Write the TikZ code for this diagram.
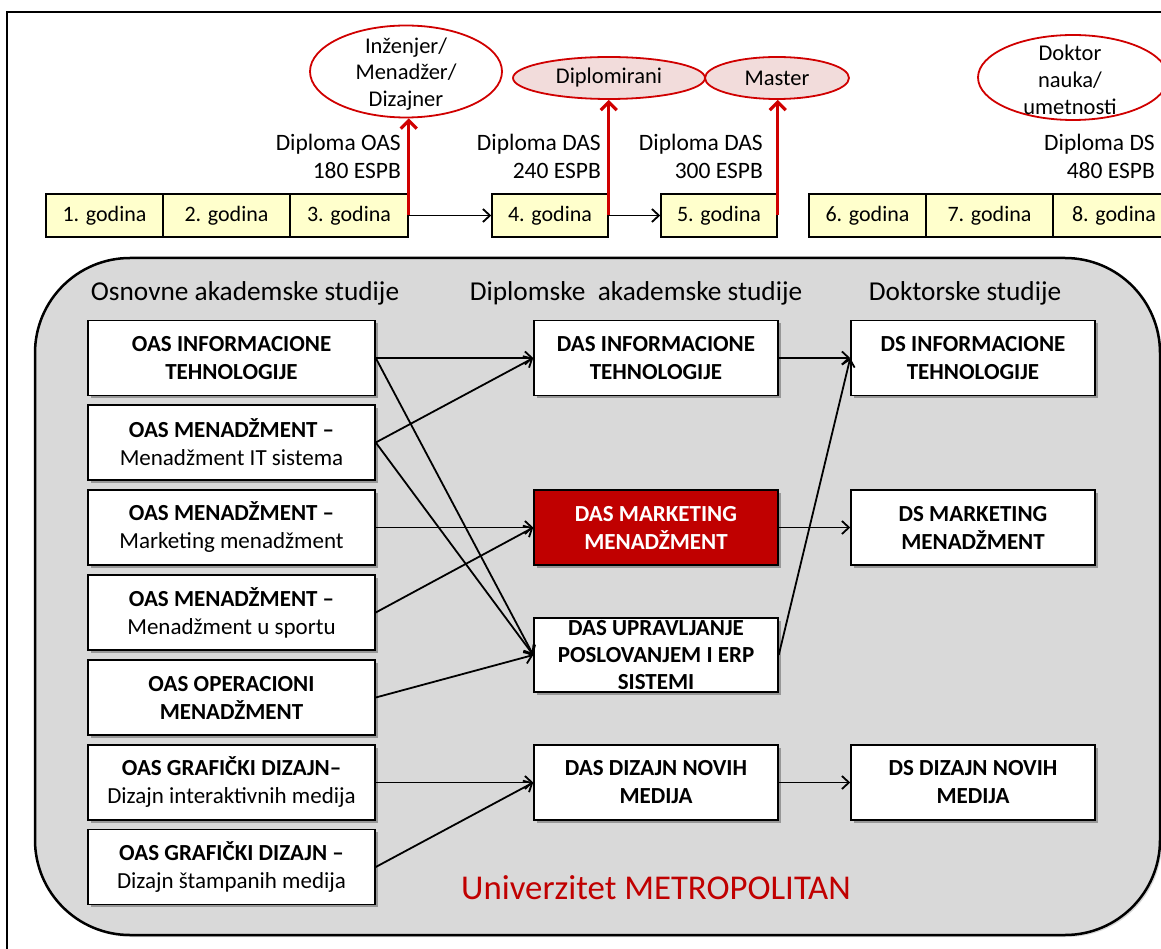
\documentclass[tikz,border=0pt]{standalone}
\usepackage{fontspec}
\setmainfont{Carlito}
\usetikzlibrary{shapes.geometric,arrows.meta,shadows}
\definecolor{bggray}{HTML}{D9D9D9}
\definecolor{yel}{HTML}{FFFFCC}
\definecolor{dred}{HTML}{C00000}
\definecolor{rline}{HTML}{D00000}
\definecolor{pinkf}{HTML}{F2DCDB}
\tikzset{
  shadowed/.style={drop shadow={shadow xshift=2.5pt,shadow yshift=-2.5pt,fill=black,opacity=0.3}},
  yearbox/.style={draw,line width=1.5pt,fill=yel,minimum height=43,inner sep=0,
    font=\fontsize{22}{25}\selectfont},
  prog/.style={draw,line width=1.5pt,fill=white,minimum height=75,inner sep=0,align=center,
    font=\fontsize{23}{28}\selectfont\bfseries,shadowed},
  oasbox/.style={prog,minimum width=287},
  dasbox/.style={prog,minimum width=244},
  degree/.style={ellipse,draw=rline,line width=1.8pt,inner sep=0},
  degtext/.style={inner sep=0,align=center,font=\fontsize{22.5}{26.5}\selectfont},
  diplabel/.style={anchor=east,align=right,inner sep=0,font=\fontsize{23.5}{28}\selectfont},
  header/.style={inner sep=0,font=\fontsize{27.3}{30}\selectfont},
  conn/.style={line width=1.8pt,-{Straight Barb[length=7pt,width=13pt,line width=1.8pt]}},
  redarr/.style={draw=rline,line width=3.2pt,-{Straight Barb[length=8pt,width=16pt,line width=3.2pt]}},
}
\begin{document}
\begin{tikzpicture}[x=1pt,y=-1pt]
\useasboundingbox (0,0) rectangle (1161,949);
\clip (0,0) rectangle (1161,949);
\fill[white] (0,0) rectangle (1161,949);
% outer frame
\draw[line width=2pt] (7,960) -- (7,12) -- (1170,12);

% big rounded panel
\draw[line width=2.5pt,fill=bggray,rounded corners=95pt,
  drop shadow={shadow xshift=2pt,shadow yshift=-2pt,opacity=0.3}] (35,258) rectangle (1160,935);

% year boxes
\node[yearbox,minimum width=117] (y1) at (104.5,215.5) {1. godina};
\node[yearbox,minimum width=127] (y2) at (226.5,215.5) {2. godina};
\node[yearbox,minimum width=118] (y3) at (349,215.5) {3. godina};
\node[yearbox,minimum width=116] (y4) at (550,215.5) {4. godina};
\node[yearbox,minimum width=116] (y5) at (719,215.5) {5. godina};
\node[yearbox,minimum width=117] (y6) at (867.5,215.5) {6. godina};
\node[yearbox,minimum width=127] (y7) at (989.5,215.5) {7. godina};
\node[yearbox,minimum width=122] (y8) at (1114,215.5) {8. godina};

% degree ellipses
\node[degree,fill=white,minimum width=192,minimum height=92] (inz) at (406,71.5) {};
\node[degtext] (inzt) at (406,74) {Inženjer/\\Menadžer/\\Dizajner};
\node[degree,fill=pinkf,minimum width=192,minimum height=42] (dipl) at (609,78) {};
\node[degtext] (diplt) at (609,78) {Diplomirani};
\node[degree,fill=pinkf,minimum width=144,minimum height=42] (mast) at (777,78) {};
\node[degtext] (mastt) at (777,78) {Master};
\node[degree,fill=white,minimum width=190,minimum height=85] (dokt) at (1073,77.5) {};
\node[degtext,font=\fontsize{22.5}{27}\selectfont] (doktt) at (1070,79.5) {Doktor\\nauka/\\umetnosti};

% diploma labels
\node[diplabel] (l1) at (401,156) {Diploma OAS\\180 ESPB};
\node[diplabel] (l2) at (601,156) {Diploma DAS\\240 ESPB};
\node[diplabel] (l3) at (763,156) {Diploma DAS\\300 ESPB};
\node[diplabel] (l4) at (1155,156) {Diploma DS\\480 ESPB};

% year arrows
\draw[conn] (y3.east) -- (y4.west);
\draw[conn] (y4.east) -- (y5.west);
\draw[redarr] (y3.east) -- (inz.south -| y3.east);
\draw[redarr] (y4.east) -- (dipl.south -| y4.east);
\draw[redarr] (y5.east) -- (mast.south -| y5.east);

% headers
\node[header] (h1) at (245,293) {Osnovne akademske studije};
\node[header] (h2) at (636,293) {Diplomske\ \ akademske studije};
\node[header] (h3) at (965,293) {Doktorske studije};

% OAS column
\node[oasbox] (oas1) at (231.5,358) {OAS INFORMACIONE\\TEHNOLOGIJE};
\node[oasbox] (oas2) at (231.5,442.5) {OAS MENADŽMENT –\\\mdseries Menadžment IT sistema};
\node[oasbox] (oas3) at (231.5,527.5) {OAS MENADŽMENT –\\\mdseries Marketing menadžment};
\node[oasbox] (oas4) at (231.5,612.5) {OAS MENADŽMENT –\\\mdseries Menadžment u sportu};
\node[oasbox] (oas5) at (231.5,697.5) {OAS OPERACIONI\\MENADŽMENT};
\node[oasbox] (oas6) at (231.5,782.5) {OAS GRAFIČKI DIZAJN–\\\mdseries Dizajn interaktivnih medija};
\node[oasbox] (oas7) at (231.5,867) {OAS GRAFIČKI DIZAJN –\\\mdseries Dizajn štampanih medija};

% DAS column
\node[dasbox] (das1) at (656,358) {DAS INFORMACIONE\\TEHNOLOGIJE};
\node[dasbox,fill=dred,text=white] (das2) at (656,527.5) {DAS MARKETING\\MENADŽMENT};
\node[dasbox,minimum height=74,font=\fontsize{23}{27}\selectfont\bfseries] (das3) at (656,655) {DAS UPRAVLJANJE\\POSLOVANJEM I ERP\\SISTEMI};
\node[dasbox] (das4) at (656,782.5) {DAS DIZAJN NOVIH\\MEDIJA};

% DS column
\node[dasbox] (ds1) at (973,358) {DS INFORMACIONE\\TEHNOLOGIJE};
\node[dasbox] (ds2) at (973,527.5) {DS MARKETING\\MENADŽMENT};
\node[dasbox] (ds3) at (973,782.5) {DS DIZAJN NOVIH\\MEDIJA};

% connectors
\draw[conn] (oas1.east) -- (das1.west);
\draw[conn] (oas1.east) -- (das3.west);
\draw[conn] (oas2.east) -- (das1.west);
\draw[conn] (oas2.east) -- (das3.west);
\draw[conn] (oas3.east) -- (das2.west);
\draw[conn] (oas4.east) -- (das2.west);
\draw[conn] (oas5.east) -- (das3.west);
\draw[conn] (oas6.east) -- (das4.west);
\draw[conn] (oas7.east) -- (das4.west);
\draw[conn] (das1.east) -- (ds1.west);
\draw[conn] (das2.east) -- (ds2.west);
\draw[conn] (das3.east) -- (ds1.west);
\draw[conn] (das4.east) -- (ds3.west);

% university label
\node[inner sep=0,text=dred,font=\fontsize{34.8}{40}\selectfont] (uni) at (656,888) {Univerzitet METROPOLITAN};
\end{tikzpicture}
\end{document}
